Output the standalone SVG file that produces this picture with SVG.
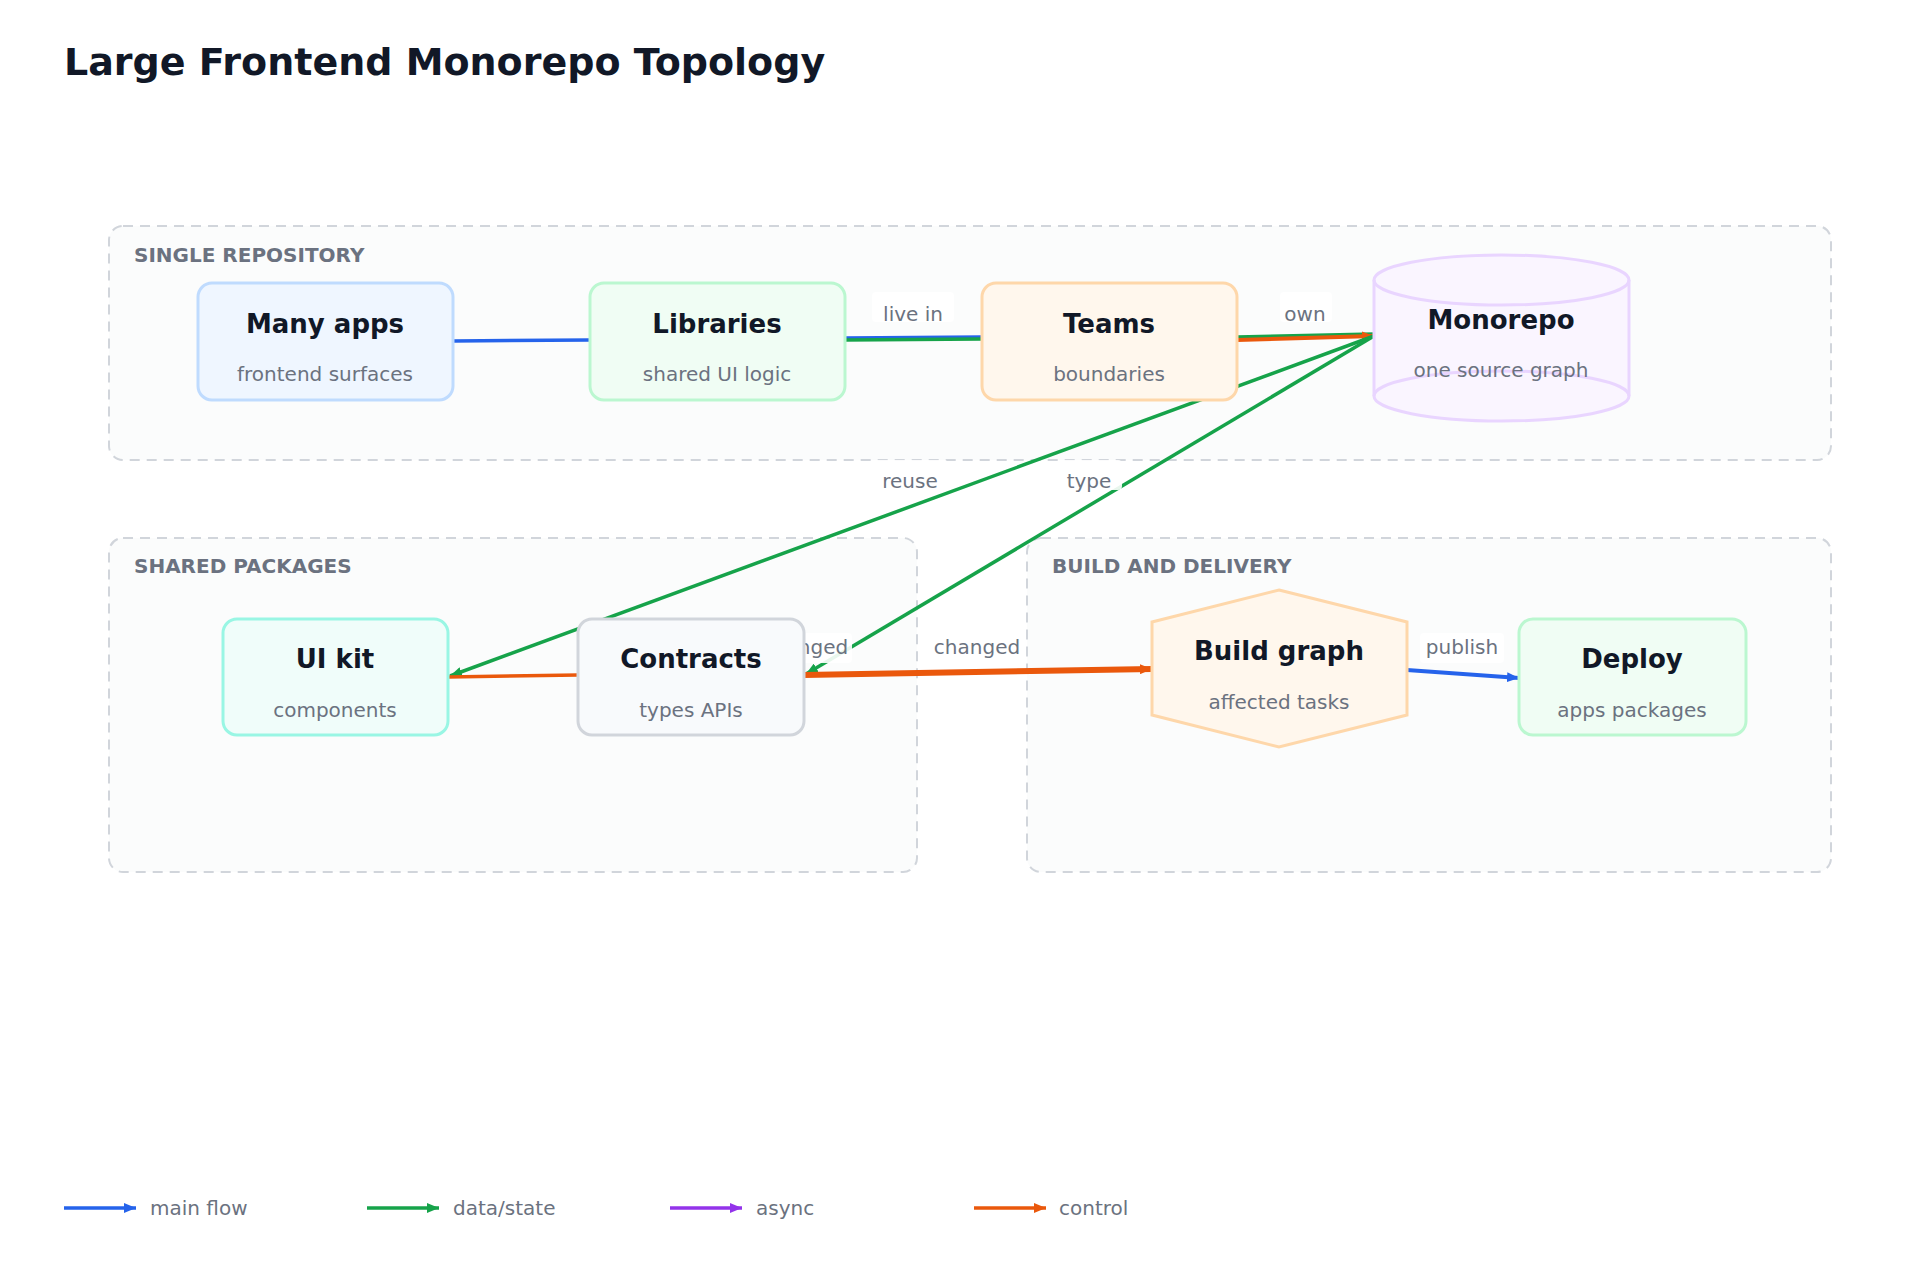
<svg xmlns="http://www.w3.org/2000/svg" width="1920" height="1280" viewBox="0 0 1920 1280">
<style>
text{font-family:"DejaVu Sans","Liberation Sans",sans-serif}
.cl{fill:#fbfcfc;stroke:#d1d5db;stroke-width:2;stroke-dasharray:10 7}
.clt{font-size:20px;font-weight:bold;fill:#6b7280}
.nt{font-size:26px;font-weight:bold;fill:#111827;text-anchor:middle}
.ns{font-size:20px;fill:#6b7280;text-anchor:middle}
.el{font-size:20px;fill:#6b7280;text-anchor:middle}
.lb{fill:#ffffff;opacity:0.9}
.e{fill:none;stroke-width:3.5}
</style>
<defs>
<marker id="ab" viewBox="0 0 12 10" refX="12" refY="5" markerWidth="12" markerHeight="10" markerUnits="userSpaceOnUse" orient="auto"><path d="M0,0L12,5L0,10z" fill="#2563eb"/></marker>
<marker id="ag" viewBox="0 0 12 10" refX="12" refY="5" markerWidth="12" markerHeight="10" markerUnits="userSpaceOnUse" orient="auto"><path d="M0,0L12,5L0,10z" fill="#16a34a"/></marker>
<marker id="ap" viewBox="0 0 12 10" refX="12" refY="5" markerWidth="12" markerHeight="10" markerUnits="userSpaceOnUse" orient="auto"><path d="M0,0L12,5L0,10z" fill="#9333ea"/></marker>
<marker id="ao" viewBox="0 0 12 10" refX="12" refY="5" markerWidth="12" markerHeight="10" markerUnits="userSpaceOnUse" orient="auto"><path d="M0,0L12,5L0,10z" fill="#ea580c"/></marker>
</defs>
<rect width="1920" height="1280" fill="#ffffff"/>
<text x="64" y="75" style="font-size:38px;font-weight:bold;fill:#111827">Large Frontend Monorepo Topology</text>

<g id="clusters">
<rect class="cl" x="109" y="226" width="1722" height="234" rx="14"/>
<text class="clt" x="134" y="262">SINGLE REPOSITORY</text>
<rect class="cl" x="109" y="538" width="808" height="334" rx="14"/>
<text class="clt" x="134" y="573">SHARED PACKAGES</text>
<rect class="cl" x="1027" y="538" width="804" height="334" rx="14"/>
<text class="clt" x="1052" y="573">BUILD AND DELIVERY</text>
</g>

<g id="connectors">
<line class="e" x1="453" y1="341" x2="590" y2="340" stroke="#2563eb"/>
<line class="e" x1="845" y1="338" x2="982" y2="337" stroke="#2563eb"/>
<line class="e" x1="845" y1="340" x2="982" y2="339" stroke="#16a34a"/>
<rect class="lb" x="872" y="292" width="82" height="30" rx="4"/>
<text class="el" x="913" y="321">live in</text>
<line class="e" x1="1237" y1="337" x2="1374" y2="334" stroke="#16a34a"/>
<line class="e" x1="1237" y1="340" x2="1374" y2="336" stroke="#ea580c" marker-end="url(#ao)" style="stroke-width:4"/>
<rect class="lb" x="1280" y="292" width="52" height="30" rx="4"/>
<text class="el" x="1305" y="321">own</text>
<line class="e" x1="1374" y1="336" x2="450" y2="676" stroke="#16a34a" marker-end="url(#ag)"/>
<line class="e" x1="1374" y1="336" x2="806" y2="674" stroke="#16a34a" marker-end="url(#ag)"/>
<rect class="lb" x="872" y="460" width="76" height="30" rx="4"/>
<text class="el" x="910" y="488">reuse</text>
<rect class="lb" x="1060" y="460" width="62" height="30" rx="4"/>
<text class="el" x="1089" y="488">type</text>
<line class="e" x1="578" y1="675" x2="448" y2="677" stroke="#ea580c"/>
<rect class="lb" x="760" y="633" width="92" height="30" rx="4"/>
<text class="el" x="805" y="654">changed</text>
<line class="e" x1="804" y1="675" x2="1152" y2="669" stroke="#ea580c" marker-end="url(#ao)" style="stroke-width:6"/>
<rect class="lb" x="928" y="633" width="98" height="30" rx="4"/>
<text class="el" x="977" y="654">changed</text>
<line class="e" x1="1407" y1="670" x2="1519" y2="678" stroke="#2563eb" marker-end="url(#ab)" style="stroke-width:4"/>
<rect class="lb" x="1420" y="633" width="84" height="30" rx="4"/>
<text class="el" x="1462" y="654">publish</text>
</g>

<g id="many-apps"><rect x="198" y="283" width="255" height="117" rx="14" fill="#eff6ff" stroke="#bfdbfe" stroke-width="3"/><text class="nt" x="325" y="333">Many apps</text><text class="ns" x="325" y="381">frontend surfaces</text></g>
<g id="libraries"><rect x="590" y="283" width="255" height="117" rx="14" fill="#f0fdf4" stroke="#bbf7d0" stroke-width="3"/><text class="nt" x="717" y="333">Libraries</text><text class="ns" x="717" y="381">shared UI logic</text></g>
<g id="teams"><rect x="982" y="283" width="255" height="117" rx="14" fill="#fff7ed" stroke="#fed7aa" stroke-width="3"/><text class="nt" x="1109" y="333">Teams</text><text class="ns" x="1109" y="381">boundaries</text></g>
<g id="monorepo">
<path d="M1374,280 A127.5,25 0 0 1 1629,280 L1629,396 A127.5,25 0 0 1 1374,396 Z" fill="#faf5ff" stroke="#e9d5ff" stroke-width="3"/>
<path d="M1374,280 A127.5,25 0 0 0 1629,280" fill="none" stroke="#e9d5ff" stroke-width="3"/>
<path d="M1374,396 A127.5,25 0 0 1 1629,396" fill="none" stroke="#e9d5ff" stroke-width="3"/>
<text class="nt" x="1501" y="329">Monorepo</text><text class="ns" x="1501" y="377">one source graph</text></g>
<g id="ui-kit"><rect x="223" y="619" width="225" height="116" rx="14" fill="#f0fdfa" stroke="#99f6e4" stroke-width="3"/><text class="nt" x="335" y="668">UI kit</text><text class="ns" x="335" y="717">components</text></g>
<g id="contracts"><rect x="578" y="619" width="226" height="116" rx="14" fill="#f8fafc" stroke="#d1d5db" stroke-width="3"/><text class="nt" x="691" y="668">Contracts</text><text class="ns" x="691" y="717">types APIs</text></g>
<g id="build-graph"><polygon points="1279,590 1407,622 1407,715 1279,747 1152,715 1152,622" fill="#fff7ed" stroke="#fed7aa" stroke-width="3"/><text class="nt" x="1279" y="660">Build graph</text><text class="ns" x="1279" y="709">affected tasks</text></g>
<g id="deploy"><rect x="1519" y="619" width="227" height="116" rx="14" fill="#f0fdf4" stroke="#bbf7d0" stroke-width="3"/><text class="nt" x="1632" y="668">Deploy</text><text class="ns" x="1632" y="717">apps packages</text></g>

<g id="legend">
<line x1="64" y1="1208" x2="136" y2="1208" stroke="#2563eb" stroke-width="3.5" marker-end="url(#ab)"/><text x="150" y="1215" class="ns" style="text-anchor:start">main flow</text>
<line x1="367" y1="1208" x2="439" y2="1208" stroke="#16a34a" stroke-width="3.5" marker-end="url(#ag)"/><text x="453" y="1215" class="ns" style="text-anchor:start">data/state</text>
<line x1="670" y1="1208" x2="742" y2="1208" stroke="#9333ea" stroke-width="3.5" marker-end="url(#ap)"/><text x="756" y="1215" class="ns" style="text-anchor:start">async</text>
<line x1="974" y1="1208" x2="1046" y2="1208" stroke="#ea580c" stroke-width="3.5" marker-end="url(#ao)"/><text x="1059" y="1215" class="ns" style="text-anchor:start">control</text>
</g>
</svg>
